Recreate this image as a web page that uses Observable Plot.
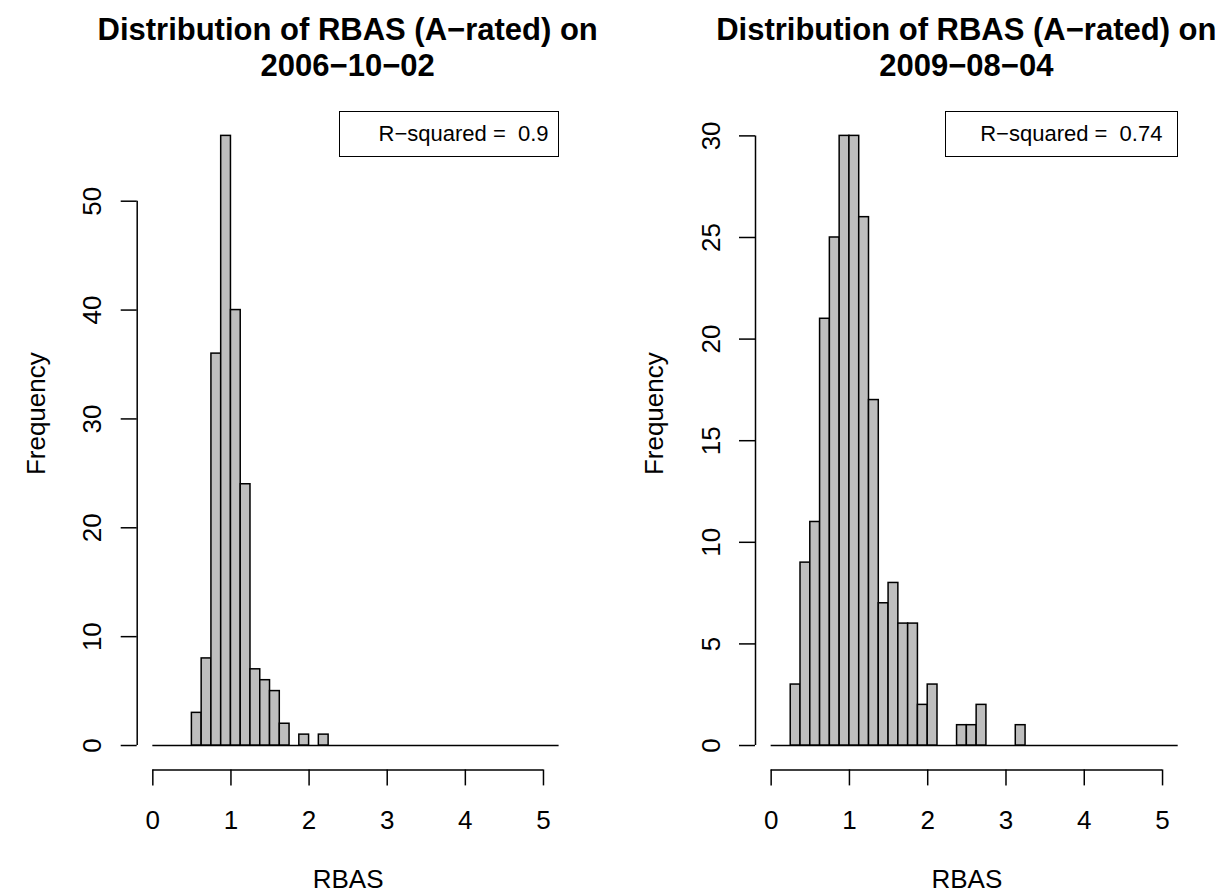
<!DOCTYPE html>
<html>
<head>
<meta charset="utf-8">
<script src="https://cdn.jsdelivr.net/npm/d3@7"></script>
<script src="https://cdn.jsdelivr.net/npm/@observablehq/plot@0.6"></script>
<style>
  body { margin: 0; background: #fff; }
  #wrap { position: relative; width: 1218px; height: 894px; overflow: hidden;
          font-family: "Liberation Sans", Arial, Helvetica, sans-serif; color: #000; }
  .panel { position: absolute; top: 0; }
  .title { position: absolute; width: 800px; text-align: center; font-weight: bold;
           font-size: 31px; line-height: 36px; white-space: nowrap; }
  .legend { position: absolute; box-sizing: border-box; border: 1.5px solid #000; background: #fff;
            font-size: 22px; white-space: pre; display: flex; align-items: center; }
</style>
</head>
<body>
<div id="wrap"></div>
<script>
// ---------- data ----------
const breaksStart = 0;
const binWidth = 0.125;
const xTicks = [0, 1, 2, 3, 4, 5];
const xLimits = [0, 5];

const countsA = [0, 0, 0, 0, 3, 8, 36, 56, 40, 24, 7, 6, 5, 2, 0, 1, 0, 1,
                 0, 0, 0, 0, 0, 0, 0, 0, 0, 0, 0, 0, 0, 0, 0, 0, 0, 0, 0, 0, 0, 0, 0, 0];
const countsB = [0, 0, 3, 9, 11, 21, 25, 30, 30, 26, 17, 7, 8, 6, 6, 2, 3, 0, 0, 1, 1, 2, 0, 0, 0, 1,
                 0, 0, 0, 0, 0, 0, 0, 0, 0, 0, 0, 0, 0, 0, 0, 0];
const yTicksA = [0, 10, 20, 30, 40, 50];
const yTicksB = [0, 5, 10, 15, 20, 25, 30];

const titleA = ["Distribution of RBAS (A\u2212rated) on", "2006\u221210\u221202"];
const titleB = ["Distribution of RBAS (A\u2212rated) on", "2009\u221208\u221204"];
const rSquaredA = "0.9";
const rSquaredB = "0.74";
const legendPrefix = "R\u2212squared =  ";
const xLabel = "RBAS";
const yLabel = "Frequency";

// ---------- helpers ----------
const FONT = '"Liberation Sans", Arial, Helvetica, sans-serif';
function makeBins(counts) {
  return counts.map((c, i) => ({
    x1: breaksStart + i * binWidth,
    x2: breaksStart + (i + 1) * binWidth,
    count: c
  }));
}
function extend(lo, hi) { const d = (hi - lo) * 0.04; return [lo - d, hi + d]; }

const panels = [
  { counts: countsA, yTicks: yTicksA, title: titleA, r2: rSquaredA,
    left: 0, marginLeft: 136.7, marginRight: 50.4, legendWidth: 219.5, legendPad: 40, ylabDx: -101 },
  { counts: countsB, yTicks: yTicksB, title: titleB, r2: rSquaredB,
    left: 609, marginLeft: 146, marginRight: 40.3, legendWidth: 232.7, legendPad: 35.7, ylabDx: -101 }
];

const wrap = document.getElementById("wrap");
const W = 609, H = 894;

for (const p of panels) {
  const bins = makeBins(p.counts);
  const xDom = extend(xLimits[0], xLimits[1]);
  const yDom = extend(0, d3.max(p.counts));
  const chart = Plot.plot({
    width: W, height: H,
    marginLeft: p.marginLeft, marginRight: p.marginRight,
    marginTop: 111, marginBottom: 124.6,
    x: { domain: xDom },
    y: { domain: yDom },
    style: { fontFamily: FONT, fontSize: "26px", color: "#000", background: "transparent" },
    marks: [
      Plot.ruleY([0], { x1: bins[0].x1, x2: bins[bins.length - 1].x2, stroke: "#000", strokeWidth: 1.5, clip: true }),
      Plot.rectY(bins.filter(d => d.count > 0), { x1: "x1", x2: "x2", y: "count",
        fill: "#bebebe", stroke: "#000", strokeWidth: 1.5, clip: true }),
      Plot.ruleY([yDom[0]], { x1: xTicks[0], x2: xTicks[xTicks.length - 1], stroke: "#000", strokeWidth: 1.5 }),
      Plot.ruleX([xDom[0]], { y1: p.yTicks[0], y2: p.yTicks[p.yTicks.length - 1], stroke: "#000", strokeWidth: 1.5 }),
      Plot.axisX({ ticks: xTicks, tickFormat: d => String(d), tickSize: 16, tickPadding: 25, label: null, strokeWidth: 1.5, fontSize: 26 }),
      Plot.axisY({ ticks: p.yTicks, tickFormat: d => String(d), tickSize: 16, tickPadding: 20, tickRotate: -90, label: null, strokeWidth: 1.5, fontSize: 26 }),
      Plot.text([xLabel], { frameAnchor: "bottom", dy: 110, fontSize: 26, lineAnchor: "middle" }),
      Plot.text([yLabel], { frameAnchor: "left", rotate: -90, dx: p.ylabDx, dy: -27, fontSize: 26,
        textAnchor: "middle", lineAnchor: "middle" })
    ]
  });
  const holder = document.createElement("div");
  holder.className = "panel";
  holder.style.left = p.left + "px";
  holder.appendChild(chart);
  wrap.appendChild(holder);

  const sx = chart.scale("x"), sy = chart.scale("y");
  const frameLeft = p.left + Math.min(...sx.range);
  const frameRight = p.left + Math.max(...sx.range);
  const frameTop = Math.min(...sy.range);
  const cx = (frameLeft + frameRight) / 2;

  const t = document.createElement("div");
  t.className = "title";
  t.style.left = (cx - 400) + "px";
  t.style.top = "12px";
  t.innerHTML = p.title.join("<br>");
  wrap.appendChild(t);

  const lg = document.createElement("div");
  lg.className = "legend";
  lg.style.left = (frameRight - p.legendWidth) + "px";
  lg.style.top = frameTop + "px";
  lg.style.width = p.legendWidth + "px";
  lg.style.height = "46px";
  lg.style.paddingLeft = (p.legendPad - 1.5) + "px";
  lg.textContent = legendPrefix + p.r2;
  wrap.appendChild(lg);
}
</script>
</body>
</html>
